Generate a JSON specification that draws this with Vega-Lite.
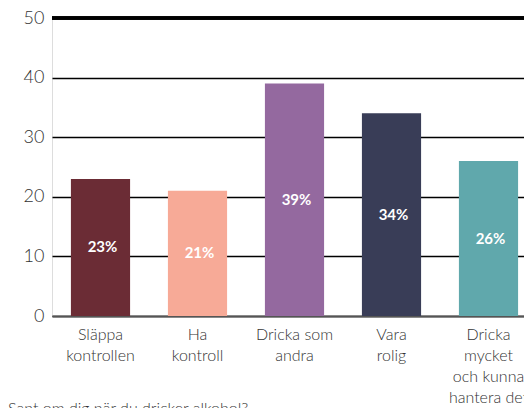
{
  "$schema": "https://vega.github.io/schema/vega-lite/v6.json",
  "width": 472,
  "height": 298,
  "autosize": {"type": "none"},
  "padding": {"left": 52, "top": 18, "right": 0, "bottom": 92},
  "background": "white",
  "title": {
    "text": "Sant om dig när du dricker alkohol?",
    "orient": "bottom",
    "anchor": "start",
    "frame": "bounds",
    "offset": -5,
    "dx": -15,
    "font": "Lato",
    "fontSize": 16,
    "fontWeight": 300,
    "color": "#333333"
  },
  "data": {
    "values": [
      {"kategori": "Släppa kontrollen", "value": 23, "label": "23%"},
      {"kategori": "Ha kontroll", "value": 21, "label": "21%"},
      {"kategori": "Dricka som andra", "value": 39, "label": "39%"},
      {"kategori": "Vara rolig", "value": 34, "label": "34%"},
      {"kategori": "Dricka mycket och kunna hantera det", "value": 26, "label": "26%"}
    ]
  },
  "encoding": {
    "x": {
      "field": "kategori",
      "type": "nominal",
      "sort": null,
      "scale": {"range": [0, 485], "paddingInner": 0.39, "paddingOuter": 0.195},
      "axis": {
        "title": null,
        "labelAngle": 0,
        "ticks": false,
        "labelPadding": 10,
        "labelFont": "Lato",
        "labelFontSize": 16,
        "labelFontWeight": 300,
        "labelColor": "#333333",
        "labelLineHeight": 21.3,
        "labelBaseline": "top",
        "domainColor": "#555555",
        "domainWidth": 2,
        "grid": false,
        "labelExpr": "datum.value == 'Släppa kontrollen' ? ['Släppa','kontrollen'] : datum.value == 'Ha kontroll' ? ['Ha','kontroll'] : datum.value == 'Dricka som andra' ? ['Dricka som','andra'] : datum.value == 'Vara rolig' ? ['Vara','rolig'] : ['Dricka','mycket','och kunna','hantera det']"
      }
    }
  },
  "layer": [
    {
      "mark": {"type": "bar"},
      "encoding": {
        "y": {
          "field": "value",
          "type": "quantitative",
          "scale": {"domain": [0, 50]},
          "axis": {
            "title": null,
            "values": [0, 10, 20, 30, 40, 50],
            "domain": false,
            "ticks": false,
            "labelPadding": 8,
            "labelFont": "Lato",
            "labelFontSize": 18,
            "labelFontWeight": 300,
            "labelColor": "#333333",
            "gridColor": "#000000",
            "gridWidth": 1.5,
            "gridOpacity": 1
          }
        },
        "color": {
          "field": "kategori",
          "type": "nominal",
          "sort": null,
          "scale": {"range": ["#6B2C35", "#F7AA97", "#94699F", "#393D57", "#60A8AC"]},
          "legend": null
        }
      }
    },
    {
      "mark": {"type": "rule", "color": "#000000", "strokeWidth": 3},
      "encoding": {"y": {"datum": 50}, "x": {"value": 0}, "x2": {"value": 472}}
    },
    {
      "transform": [{"calculate": "datum.value / 2", "as": "mitt"}],
      "mark": {"type": "text", "color": "white", "font": "Lato", "fontWeight": "bold", "fontSize": 15, "dx": 2},
      "encoding": {
        "y": {"field": "mitt", "type": "quantitative"},
        "text": {"field": "label"}
      }
    }
  ]
}
